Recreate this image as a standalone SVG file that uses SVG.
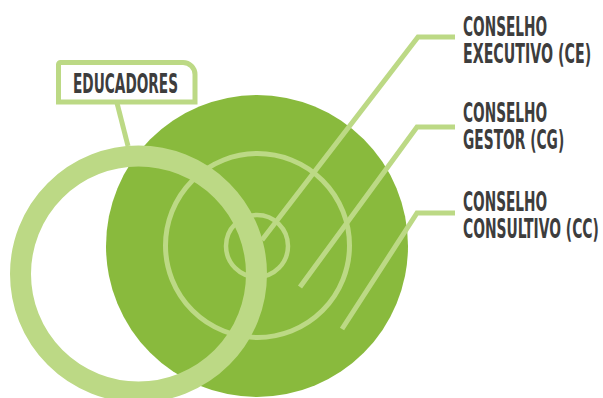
<svg xmlns="http://www.w3.org/2000/svg" width="603" height="398" viewBox="0 0 603 398">
<style>
.lt{fill:none;stroke:#bcd985}
.lbl{font-family:"Liberation Sans Narrow","DejaVu Sans Condensed","Liberation Sans",sans-serif;font-weight:bold;font-size:26px;fill:#3d3d3d}
</style>
<rect width="603" height="398" fill="#ffffff"/>
<g id="conselho-consultivo-circle">
<circle cx="257" cy="246" r="151" fill="#89ba3d"/>
</g>
<g id="conselho-gestor-circle">
<circle class="lt" cx="257.5" cy="245.5" r="92" stroke-width="5"/>
</g>
<g id="conselho-executivo-circle">
<circle class="lt" cx="257" cy="246" r="31" stroke-width="4.5"/>
</g>
<g id="connectors" class="lt" stroke-width="5">
<polyline points="455,37 418,37 262,240"/>
<polyline points="455,127 417,127 300,287"/>
<polyline points="455,213 417,213 342,329"/>
<line x1="117" y1="103" x2="128" y2="146"/>
</g>
<g id="educadores-ring">
<circle class="lt" cx="138.5" cy="274" r="118" stroke-width="21"/>
</g>
<g id="educadores-label">
<path d="M60.5,62.5 H183 A12,12 0 0 1 195,74.5 V102 H58.5 V64.5 A2,2 0 0 1 60.5,62.5 Z" fill="#ffffff" stroke="#bcd985" stroke-width="5"/>
<text class="lbl" transform="translate(73,93) scale(0.55,1)" textLength="191" lengthAdjust="spacingAndGlyphs">EDUCADORES</text>
</g>
<g id="label-ce">
<text class="lbl" transform="translate(463,36) scale(0.55,1)" textLength="153" lengthAdjust="spacingAndGlyphs">CONSELHO</text>
<text class="lbl" transform="translate(463,63) scale(0.55,1)" textLength="233" lengthAdjust="spacingAndGlyphs">EXECUTIVO (CE)</text>
</g>
<g id="label-cg">
<text class="lbl" transform="translate(463,122) scale(0.55,1)" textLength="153" lengthAdjust="spacingAndGlyphs">CONSELHO</text>
<text class="lbl" transform="translate(463,149) scale(0.55,1)" textLength="184" lengthAdjust="spacingAndGlyphs">GESTOR (CG)</text>
</g>
<g id="label-cc">
<text class="lbl" transform="translate(463,211) scale(0.55,1)" textLength="153" lengthAdjust="spacingAndGlyphs">CONSELHO</text>
<text class="lbl" transform="translate(463,238) scale(0.55,1)" textLength="247" lengthAdjust="spacingAndGlyphs">CONSULTIVO (CC)</text>
</g>
</svg>
